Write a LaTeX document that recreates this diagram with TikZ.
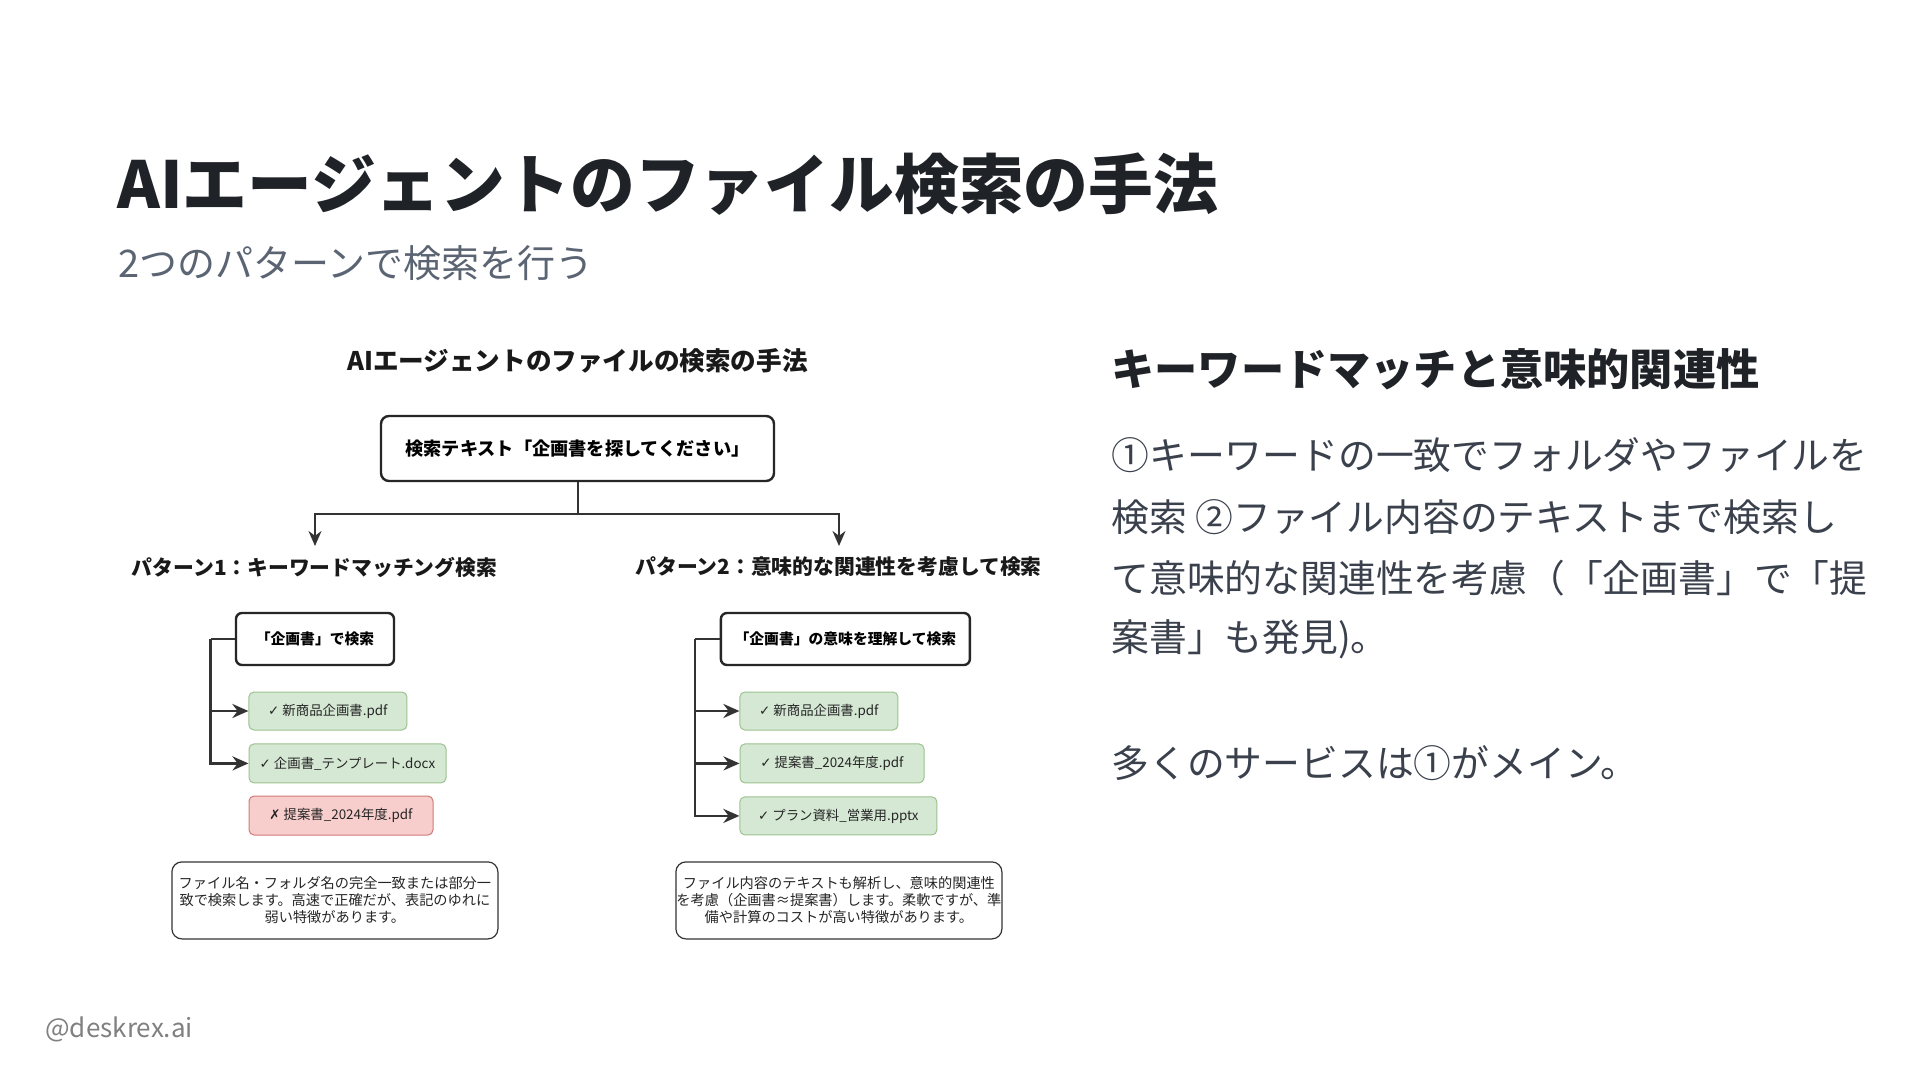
\documentclass[tikz,border=0pt]{standalone}
\usepackage{fontspec}
\setmainfont{Noto Sans CJK JP}
\newfontfamily\blackf{Noto Sans CJK JP Black}
\newfontfamily\symf{DejaVu Sans}
\usetikzlibrary{arrows.meta}
\definecolor{titlec}{HTML}{1F2328}
\definecolor{subc}{HTML}{5B6472}
\definecolor{bodyc}{HTML}{3A414C}
\definecolor{linec}{HTML}{333333}
\definecolor{gfill}{HTML}{D5E8D4}
\definecolor{gdraw}{HTML}{9CC28E}
\definecolor{rfill}{HTML}{F8CECC}
\definecolor{rdraw}{HTML}{D07A78}
\newcommand{\fs}[2]{\fontsize{#1}{#2}\selectfont}
\begin{document}
\begin{tikzpicture}[x=0.5pt,y=-0.5pt,
  qbox/.style={draw=black!85, line width=1.2pt, rounded corners=3pt, fill=white,
    font=\bfseries\fs{7.4pt}{9pt}, inner sep=0pt},
  gbox/.style={draw=gdraw, line width=0.5pt, rounded corners=2.5pt, fill=gfill,
    font=\fs{6.7pt}{8pt}, text=black!85, inner sep=0pt},
  rbox/.style={draw=rdraw, line width=0.5pt, rounded corners=2.5pt, fill=rfill,
    font=\fs{6.7pt}{8pt}, text=black!85, inner sep=0pt},
  dbox/.style={draw=black!80, line width=0.6pt, rounded corners=5pt, fill=white,
    font=\fs{7.1pt}{8.5pt}, align=center, text=black!85, inner sep=0pt},
  conn/.style={draw=linec, line width=1.4pt},
  conna/.style={conn, -{Stealth[length=8pt,width=7pt]}},
  topconn/.style={draw=linec, line width=1pt},
  bodyline/.style={anchor=west, font=\fs{18.9pt}{24pt}, text=bodyc, inner sep=0pt}
]
\useasboundingbox[fill=white] (0,0) rectangle (1920,1080);

% slide texts
\node[anchor=west, font=\blackf\fs{32.4pt}{38pt}, text=titlec, inner sep=0pt] (title) at (117,184) {AIエージェントのファイル検索の手法};
\node[anchor=west, font=\fs{19pt}{23pt}, text=subc, inner sep=0pt] (sub) at (118,263) {2つのパターンで検索を行う};

\node[anchor=west, font=\bfseries\fs{21.6pt}{26pt}, text=titlec, inner sep=0pt] (rhead) at (1111,369) {キーワードマッチと意味的関連性};
\node[bodyline] (b1) at (1111,455.5) {①キーワードの一致でフォルダやファイルを};
\node[bodyline] (b2) at (1111,516.7) {検索 ②ファイル内容のテキストまで検索し};
\node[bodyline] (b3) at (1111,578) {て意味的な関連性を考慮（「企画書」で「提};
\node[bodyline] (b4) at (1111,639) {案書」も発見)。};
\node[bodyline] (b5) at (1111,763) {多くのサービスは①がメイン。};

\node[anchor=west, font=\fs{13pt}{15pt}, text=black!50, inner sep=0pt] (foot) at (45,1029) {@deskrex.ai};

% diagram
\node[font=\bfseries\fs{12.8pt}{15pt}, text=black!90] (dtitle) at (577.5,361) {AIエージェントのファイルの検索の手法};
\node[qbox, minimum width=196.5pt, minimum height=32.5pt, rounded corners=4pt, font=\bfseries\fs{9.1pt}{10pt}] (top) at (577.5,448.5) {検索テキスト「企画書を探してください」};

\node[font=\bfseries\fs{10.4pt}{12pt}, text=black!90] (p1) at (314.5,567) {パターン1：キーワードマッチング検索};
\node[font=\bfseries\fs{10.4pt}{12pt}, text=black!90] (p2) at (838.5,567) {パターン2：意味的な関連性を考慮して検索};

\coordinate (bar) at (577.5,514);
\coordinate (a1) at (315,546);
\coordinate (a2) at (839,546);
\draw[topconn] (top.south) -- (bar);
\draw[topconn, -{Stealth[length=7.5pt,width=6.5pt]}] (bar) -| (a1);
\draw[topconn, -{Stealth[length=7.5pt,width=6.5pt]}] (bar) -| (a2);

% pattern 1
\node[qbox, minimum width=79pt, minimum height=26pt] (q1) at (315,639) {「企画書」で検索};
\node[gbox, minimum width=79pt, minimum height=19pt] (g11) at (327.9,711) {{\symf ✓} 新商品企画書.pdf};
\node[gbox, minimum width=98.5pt, minimum height=19.5pt] (g12) at (347.5,763.4) {{\symf ✓} 企画書\_テンプレート.docx};
\node[rbox, minimum width=92pt, minimum height=19.5pt] (r13) at (341,815.5) {{\symf ✗} 提案書\_2024年度.pdf};
\node[dbox, minimum width=163pt, minimum height=38.5pt] (d1) at (334.9,900.4)
  {ファイル名・フォルダ名の完全一致または部分一\\致で検索します。高速で正確だが、表記のゆれに\\弱い特徴があります。};

\coordinate (t1) at (210.7,639);
\draw[conn] (q1.west) -- (t1);
\draw[conna] (t1) |- (g12.west);
\draw[conna] (t1 |- g11.west) -- (g11.west);

% pattern 2
\node[qbox, minimum width=124.5pt, minimum height=26pt] (q2) at (845.4,639) {「企画書」の意味を理解して検索};
\node[gbox, minimum width=79pt, minimum height=19pt] (g21) at (818.9,711) {{\symf ✓} 新商品企画書.pdf};
\node[gbox, minimum width=92pt, minimum height=19.5pt] (g22) at (832,763.4) {{\symf ✓} 提案書\_2024年度.pdf};
\node[gbox, minimum width=98.5pt, minimum height=19pt] (g23) at (838.4,815.9) {{\symf ✓} プラン資料\_営業用.pptx};
\node[dbox, minimum width=163pt, minimum height=38.5pt] (d2) at (838.9,900.4)
  {ファイル内容のテキストも解析し、意味的関連性\\を考慮（企画書≈提案書）します。柔軟ですが、準\\備や計算のコストが高い特徴があります。};

\coordinate (t2) at (695,639);
\draw[conn] (q2.west) -- (t2);
\draw[conna] (t2) |- (g23.west);
\draw[conna] (t2 |- g21.west) -- (g21.west);
\draw[conna] (t2 |- g22.west) -- (g22.west);
\end{tikzpicture}
\end{document}
